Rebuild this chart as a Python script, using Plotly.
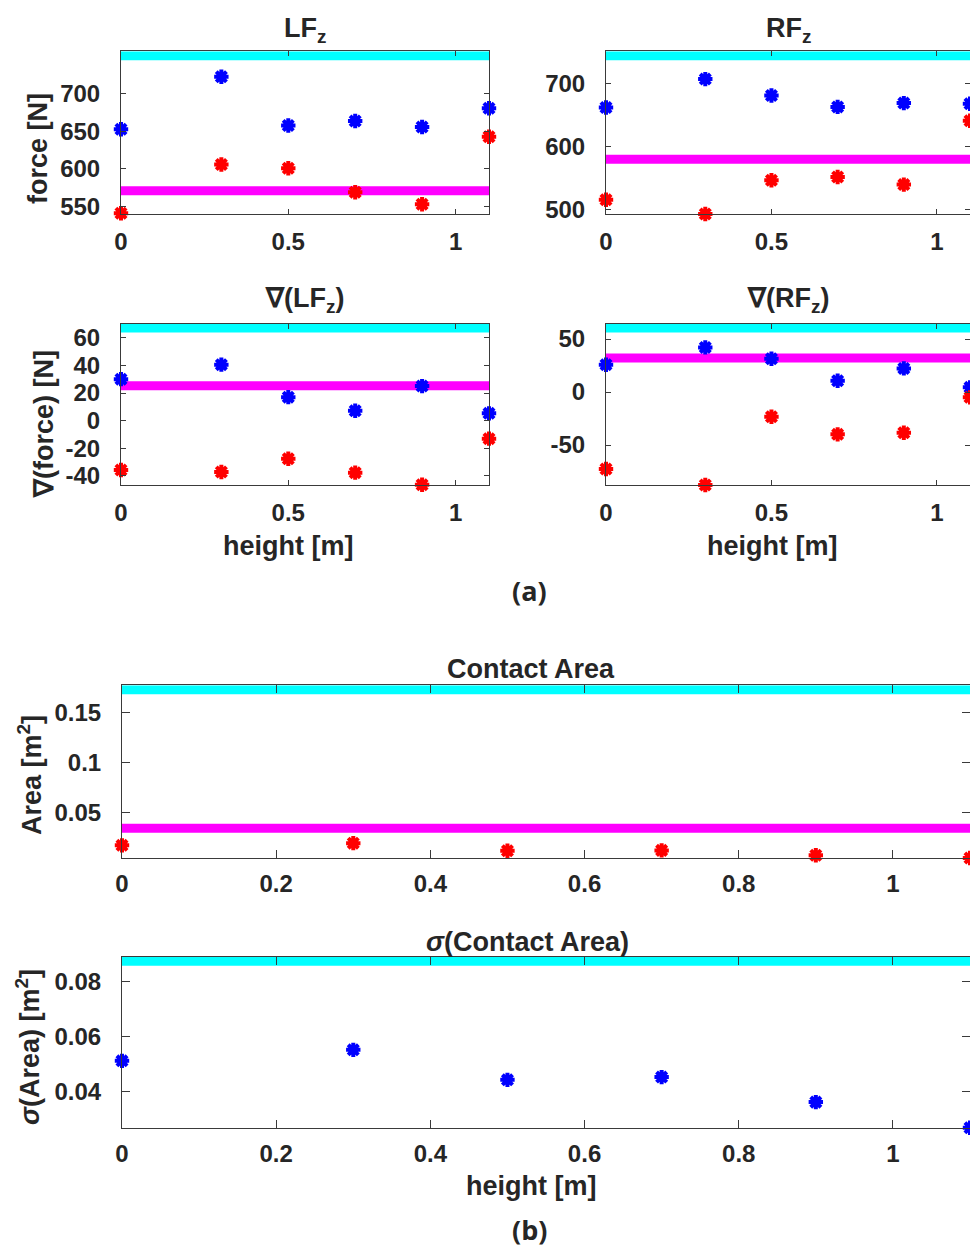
import plotly.graph_objects as go

# ---------------- data ----------------
heights = [0, 0.3, 0.5, 0.7, 0.9, 1.1]

lf_blue = [653, 723, 658, 664, 656, 681]
lf_red = [541, 606, 601, 569, 553, 643]
lf_cyan = 751
lf_magenta = 571

rf_blue = [662, 707, 681, 663, 669, 668]
rf_red = [516, 493.5, 547, 552, 540, 641]
rf_cyan = 744
rf_magenta = 580

dlf_blue = [30, 40.5, 17, 7.2, 25, 5.3]
dlf_red = [-35.7, -37.1, -27.5, -37.6, -46.3, -13]
dlf_cyan = 67
dlf_magenta = 25.3

drf_blue = [25.8, 42.1, 31.4, 10.7, 22.3, 4.4]
drf_red = [-72.6, -87.7, -23.3, -39.9, -38.4, -5.0]
drf_cyan = 60.4
drf_magenta = 32.1

area_red = [0.0174, 0.0196, 0.0120, 0.0124, 0.0075, 0.0048]
area_cyan = 0.1726
area_magenta = 0.0344

sigma_blue = [0.0512, 0.0552, 0.0443, 0.0453, 0.0362, 0.0269]
sigma_cyan = 0.0874

# tick labels
ticks_lf = [550, 600, 650, 700]
ticks_rf = [500, 600, 700]
ticks_dlf = [-40, -20, 0, 20, 40, 60]
ticks_drf = [-50, 0, 50]
ticks_area = [0.05, 0.1, 0.15]
ticks_sigma = [0.04, 0.06, 0.08]
xticks_top = [0, 0.5, 1]
xticks_bottom = [0, 0.2, 0.4, 0.6, 0.8, 1]

# ---------------- layout geometry (pixels) ----------------
W, H = 970, 1248
FONT = "Liberation Sans, Arial, sans-serif"
TXT = "#262626"
AX = "#3a3a3a"
LW = 9  # thickness of horizontal reference lines

panels = [
    dict(x0=121, x1=489, top=55.7, bot=214, ymin=540,
         cyan=lf_cyan, mag=lf_magenta, blue=lf_blue, red=lf_red,
         yt=ticks_lf, xt=xticks_top, tl=5, xs=6),
    dict(x0=606, x1=970, top=55.7, bot=214, ymin=493.5,
         cyan=rf_cyan, mag=rf_magenta, blue=rf_blue, red=rf_red,
         yt=ticks_rf, xt=xticks_top, tl=5, xs=6),
    dict(x0=121, x1=489, top=328, bot=484.7, ymin=-46.3,
         cyan=dlf_cyan, mag=dlf_magenta, blue=dlf_blue, red=dlf_red,
         yt=ticks_dlf, xt=xticks_top, tl=5, xs=6),
    dict(x0=606, x1=970, top=328, bot=485, ymin=-87.7,
         cyan=drf_cyan, mag=drf_magenta, blue=drf_blue, red=drf_red,
         yt=ticks_drf, xt=xticks_top, tl=5, xs=6),
    dict(x0=122, x1=970, top=689.7, bot=858, ymin=0.0048,
         cyan=area_cyan, mag=area_magenta, blue=None, red=area_red,
         yt=ticks_area, xt=xticks_bottom, tl=8, xs=4),
    dict(x0=122, x1=970, top=961.3, bot=1127.7, ymin=0.0269,
         cyan=sigma_cyan, mag=None, blue=sigma_blue, red=None,
         yt=ticks_sigma, xt=xticks_bottom, tl=8, xs=4),
]

fig = go.Figure()
layout = {}
marker_common = dict(symbol="asterisk-open", size=12)


def label(v):
    return f"{v:g}"  # plain hyphen minus, as in the reference


for i, p in enumerate(panels, start=1):
    xs = "x" if i == 1 else f"x{i}"
    ys = "y" if i == 1 else f"y{i}"
    xend = max(heights)
    # reference lines
    fig.add_trace(go.Scatter(x=[0, xend], y=[p["cyan"], p["cyan"]], mode="lines",
                             line=dict(color="#00FFFF", width=LW), xaxis=xs, yaxis=ys,
                             showlegend=False, hoverinfo="skip"))
    if p["mag"] is not None:
        fig.add_trace(go.Scatter(x=[0, xend], y=[p["mag"], p["mag"]], mode="lines",
                                 line=dict(color="#FF00FF", width=LW), xaxis=xs, yaxis=ys,
                                 showlegend=False, hoverinfo="skip"))
    if p["blue"] is not None:
        fig.add_trace(go.Scatter(x=heights, y=p["blue"], mode="markers",
                                 marker=dict(**marker_common, color="#0000FF",
                                             line=dict(color="#0000FF", width=4)),
                                 xaxis=xs, yaxis=ys, showlegend=False, cliponaxis=False))
    if p["red"] is not None:
        fig.add_trace(go.Scatter(x=heights, y=p["red"], mode="markers",
                                 marker=dict(**marker_common, color="#FF0000",
                                             line=dict(color="#FF0000", width=4)),
                                 xaxis=xs, yaxis=ys, showlegend=False, cliponaxis=False))
    span = p["cyan"] - p["ymin"]
    pad = span * (LW / 2) / (p["bot"] - p["top"])
    common = dict(showline=True, mirror="ticks", ticks="inside", linecolor=AX,
                  tickcolor=AX, linewidth=1, tickwidth=1, ticklen=p["tl"],
                  showgrid=False, zeroline=False, automargin=False,
                  tickfont=dict(family=FONT, size=24, color=TXT, weight="bold"))
    layout["xaxis" if i == 1 else f"xaxis{i}"] = dict(
        domain=[p["x0"] / W, p["x1"] / W], range=[0, xend], anchor=ys,
        tickvals=p["xt"], ticktext=[label(v) for v in p["xt"]],
        ticklabelstandoff=p["xs"], **common)
    layout["yaxis" if i == 1 else f"yaxis{i}"] = dict(
        domain=[1 - p["bot"] / H, 1 - (p["top"] - LW / 2) / H],
        range=[p["ymin"], p["cyan"] + pad], anchor=xs,
        tickvals=p["yt"], ticktext=[label(v) for v in p["yt"]],
        ticklabelstandoff=15, **common)


def ann(text, xpx, ypx, size=27, angle=0, family=FONT):
    return dict(text=text, x=xpx / W, y=1 - ypx / H, xref="paper", yref="paper",
                showarrow=False, textangle=angle, xanchor="center", yanchor="middle",
                font=dict(family=family, size=size, color=TXT, weight="bold"))


annotations = [
    ann("LF<sub>z</sub>", 305, 30),
    ann("RF<sub>z</sub>", 788, 30),
    ann("∇(LF<sub>z</sub>)", 304, 300),
    ann("∇(RF<sub>z</sub>)", 788, 300),
    ann("Contact Area", 531, 669),
    ann("<i>σ</i>(Contact Area)", 527, 942),
    ann("height [m]", 288, 546),
    ann("height [m]", 772, 546),
    ann("height [m]", 531, 1186),
    ann("force [N]", 38, 149, angle=-90),
    ann("∇(force) [N]", 44, 424, angle=-90),
    ann("Area [m<sup>2</sup>]", 30, 775, angle=-90),
    ann("<i>σ</i>(Area) [m<sup>2</sup>]", 28, 1047, angle=-90),
    ann("(a)", 529, 590, size=27, family="Open Sans, sans-serif"),
    ann("(b)", 529, 1229, size=27, family="Open Sans, sans-serif"),
]

fig.update_layout(
    width=W, height=H, margin=dict(l=0, r=0, t=0, b=0),
    paper_bgcolor="white", plot_bgcolor="white",
    annotations=annotations, **layout)

fig.write_html("out.html")
